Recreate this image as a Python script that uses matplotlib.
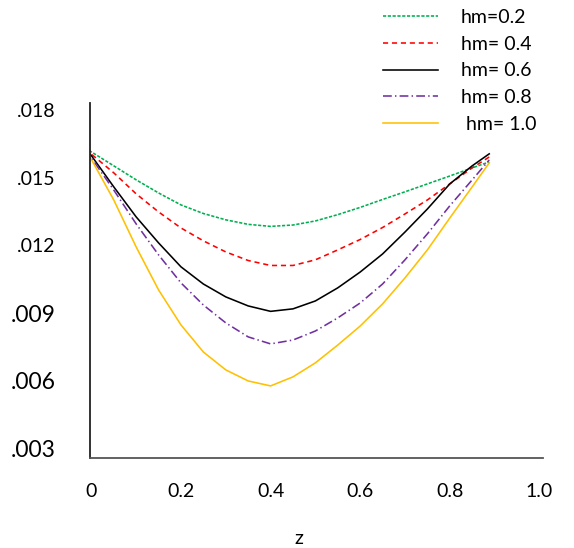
import matplotlib
matplotlib.use("Agg")
import matplotlib.pyplot as plt

# ------------------------------------------------------------
# data
# ------------------------------------------------------------
z = [-0.014, 0.05, 0.1, 0.15, 0.2, 0.25, 0.3, 0.35, 0.4, 0.45,
     0.5, 0.55, 0.6, 0.65, 0.7, 0.75, 0.8, 0.85, 0.888]

hm_02 = [0.01631, 0.01552, 0.01490, 0.01432, 0.01379, 0.01341, 0.01313, 0.01293, 0.01284, 0.01290,
         0.01308, 0.01336, 0.01368, 0.01403, 0.01437, 0.01472, 0.01507, 0.01543, 0.01569]
hm_04 = [0.01627, 0.01521, 0.01428, 0.01348, 0.01277, 0.01220, 0.01171, 0.01133, 0.01111, 0.01111,
         0.01136, 0.01180, 0.01226, 0.01279, 0.01339, 0.01401, 0.01472, 0.01543, 0.01591]
hm_06 = [0.01636, 0.01459, 0.01326, 0.01211, 0.01105, 0.01029, 0.00972, 0.00932, 0.00908, 0.00919,
         0.00954, 0.01012, 0.01082, 0.01162, 0.01259, 0.01361, 0.01472, 0.01552, 0.01605]
hm_08 = [0.01627, 0.01445, 0.01295, 0.01158, 0.01034, 0.00936, 0.00857, 0.00795, 0.00764, 0.00781,
         0.00821, 0.00879, 0.00945, 0.01029, 0.01136, 0.01251, 0.01375, 0.01490, 0.01578]
hm_10 = [0.01631, 0.01401, 0.01193, 0.01003, 0.00848, 0.00728, 0.00649, 0.00600, 0.00578, 0.00618,
         0.00680, 0.00759, 0.00843, 0.00941, 0.01056, 0.01180, 0.01321, 0.01459, 0.01565]

labels = ["hm=0.2", "hm= 0.4", "hm= 0.6", "hm= 0.8", " hm= 1.0"]

x_ticks = [0, 0.2, 0.4, 0.6, 0.8, 1.0]
x_tick_labels = ["0", "0.2", "0.4", "0.6", "0.8", "1.0"]
y_ticks = [0.018, 0.015, 0.012, 0.009, 0.006, 0.003]
y_tick_labels = [".018", ".015", ".012", ".009", ".006", ".003"]

# ------------------------------------------------------------
# styles
# ------------------------------------------------------------
FONT = "Lato"
plt.rcParams["font.family"] = [FONT, "DejaVu Sans"]

STYLES = [
    dict(color="#00B050", linestyle=(0, (2.0, 1.0))),
    dict(color="#FF0000", linestyle=(0, (3.2, 2.4))),
    dict(color="#000000", linestyle="-"),
    dict(color="#7030A0", linestyle=(0, (5.5, 2.0, 0.9, 2.0))),
    dict(color="#FFC000", linestyle="-"),
]

fig = plt.figure(figsize=(5.74, 5.48), dpi=100)
ax = fig.add_axes([90 / 574, 90 / 548, 453 / 574, 355 / 548])

for ys, lab, st in zip([hm_02, hm_04, hm_06, hm_08, hm_10], labels, STYLES):
    ax.plot(z, ys, linewidth=1.15, label=lab, **st)

ax.set_xlim(-0.003, 1.008)
ax.set_ylim(0.00259, 0.0183)

ax.spines["top"].set_visible(False)
ax.spines["right"].set_visible(False)
ax.spines["left"].set_color("#222222")
ax.spines["bottom"].set_color("#555555")
ax.spines["left"].set_linewidth(1.3)
ax.spines["bottom"].set_linewidth(1.3)

ax.set_xticks(x_ticks)
ax.set_xticklabels(x_tick_labels, fontsize=14)
ax.set_yticks(y_ticks)
ax.set_yticklabels(y_tick_labels)
for i, t in enumerate(ax.get_yticklabels()):
    t.set_fontsize(14 if i < 3 else 16.5)
ax.tick_params(axis="both", length=0)
ax.tick_params(axis="y", pad=25)
ax.tick_params(axis="x", pad=18)

ax.set_xlabel("z", fontsize=14)
ax.xaxis.set_label_coords((299 - 90) / 453, (458 - 530) / 355)

fig.legend(
    loc="upper left",
    bbox_to_anchor=(383 / 574, 1 - 9 / 548),
    frameon=False,
    fontsize=14,
    borderpad=0,
    borderaxespad=0,
    handlelength=2.85,
    handletextpad=1.15,
    labelspacing=0.5,
)

fig.savefig("out.png", dpi=100)
